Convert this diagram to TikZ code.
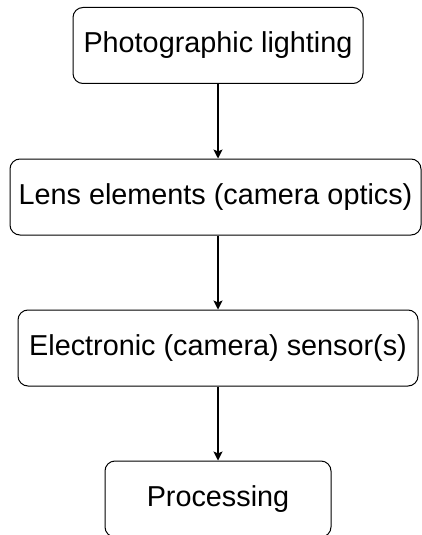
\documentclass[tikz,border=0pt]{standalone}
\usepackage{fontspec}
\setmainfont{Liberation Sans}
\usetikzlibrary{arrows.meta}

\begin{document}
\begin{tikzpicture}[
    x=0.5pt, y=-0.5pt,
    box/.style={draw, rounded corners=5pt, line width=0.5pt, minimum height=38pt, inner sep=0pt, font=\fontsize{14.4}{17}\selectfont, align=center},
    arr/.style={-{Stealth[length=4.5pt, width=4.5pt, inset=1pt]}, line width=0.65pt},
  ]
  \useasboundingbox (0,0) rectangle (422,535);
  \node[box, minimum width=145pt] (light) at (218,45.5) {Photographic lighting};
  \node[box, minimum width=205.5pt] (lens) at (215.5,197) {Lens elements (camera optics)};
  \node[box, minimum width=200pt] (sensor) at (218,348) {Electronic (camera) sensor(s)};
  \node[box, minimum width=113pt] (proc) at (218,499) {Processing};

  \draw[arr] (light.south -| proc) -- (lens.north -| proc);
  \draw[arr] (lens.south -| proc) -- (sensor.north);
  \draw[arr] (sensor) -- (proc);
\end{tikzpicture}
\end{document}
